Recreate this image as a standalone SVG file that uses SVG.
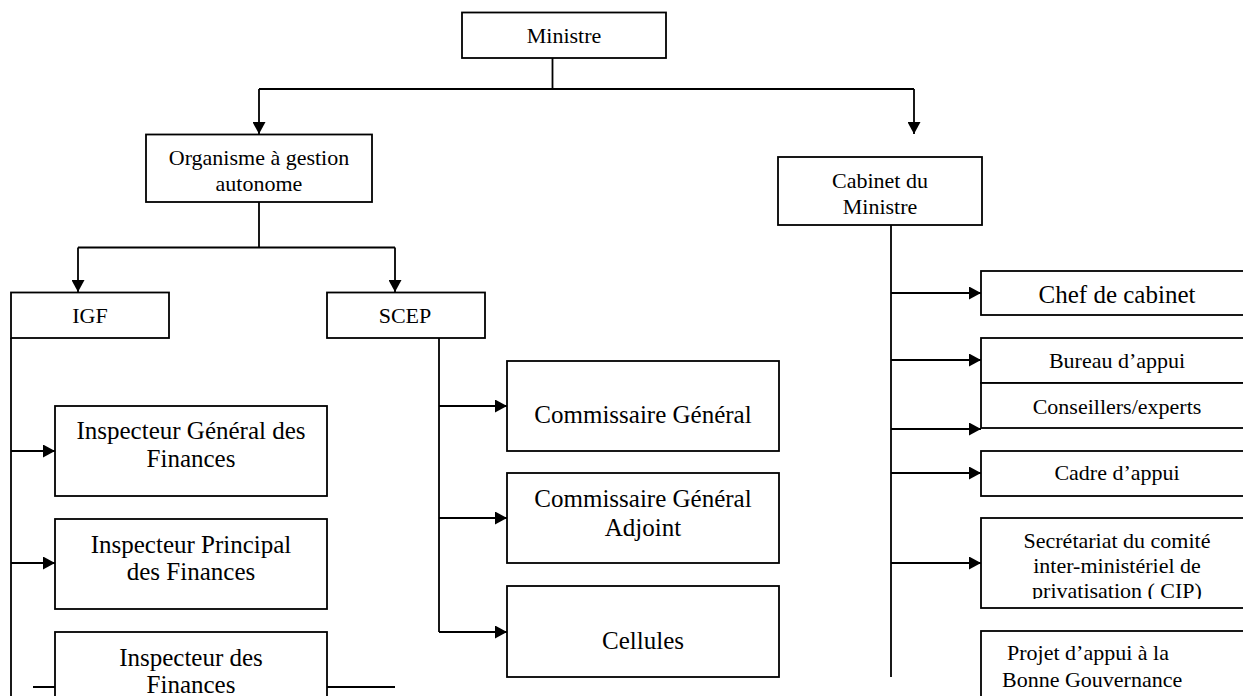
<svg xmlns="http://www.w3.org/2000/svg" width="1243" height="696" viewBox="0 0 1243 696">
<defs>
<marker id="arr" markerUnits="userSpaceOnUse" markerWidth="13" markerHeight="13" refX="12" refY="6.5" orient="auto">
<path d="M0,0 L12,6.5 L0,13 z" fill="#000"/>
</marker>
<clipPath id="clipSec"><rect x="982" y="519" width="270" height="80"/></clipPath>
</defs>
<style>
.box{fill:#fff;stroke:#000;stroke-width:1.8}
.ln{fill:none;stroke:#000;stroke-width:1.8}
.ar{fill:none;stroke:#000;stroke-width:1.8;marker-end:url(#arr)}
text{font-family:"Liberation Serif","Times New Roman",serif;fill:#000;text-anchor:middle}
.s{font-size:22px}
.l{font-size:25px}
</style>
<rect width="1243" height="696" fill="#fff"/>
<g id="connectors">
<path class="ln" d="M552.5,58 V89 M259,89 H914"/>
<path class="ar" d="M259,89 V134"/>
<path class="ar" d="M914,89 V134"/>
<path class="ln" d="M259,202 V247.5 M78,247.5 H395"/>
<path class="ar" d="M78,247.5 V292"/>
<path class="ar" d="M395,247.5 V292"/>
<path class="ln" d="M11,338 V696"/>
<path class="ar" d="M11,451 H55"/>
<path class="ar" d="M11,563 H55"/>
<path class="ln" d="M33,687 H55 M327,687 H395"/>
<path class="ln" d="M439,338 V632"/>
<path class="ar" d="M439,406 H507"/>
<path class="ar" d="M439,518 H507"/>
<path class="ar" d="M439,632 H507"/>
<path class="ln" d="M891,225 V677"/>
<path class="ar" d="M891,293 H981"/>
<path class="ar" d="M891,360 H981"/>
<path class="ar" d="M891,429 H981"/>
<path class="ar" d="M891,473 H981"/>
<path class="ar" d="M891,563 H981"/>
</g>
<g id="ministre"><rect class="box" x="462" y="12.5" width="204" height="45.5"/><text class="s" x="564" y="43">Ministre</text></g>
<g id="organisme"><rect class="box" x="146" y="134.5" width="226" height="67.5"/><text class="s" x="259" y="165">Organisme à gestion</text><text class="s" x="259" y="191">autonome</text></g>
<g id="cabinet"><rect class="box" x="778" y="157" width="204" height="68"/><text class="s" x="880" y="188">Cabinet du</text><text class="s" x="880" y="214">Ministre</text></g>
<g id="igf"><rect class="box" x="11" y="292.5" width="158" height="45.5"/><text class="s" x="90" y="323">IGF</text></g>
<g id="scep"><rect class="box" x="327" y="292.5" width="158" height="45.5"/><text class="s" x="405" y="323">SCEP</text></g>
<g id="insp-general"><rect class="box" x="55" y="406" width="272" height="90"/><text class="l" x="191" y="439">Inspecteur Général des</text><text class="l" x="191" y="467">Finances</text></g>
<g id="insp-principal"><rect class="box" x="55" y="519" width="272" height="90"/><text class="l" x="191" y="553">Inspecteur Principal</text><text class="l" x="191" y="580">des Finances</text></g>
<g id="insp-finances"><rect class="box" x="55" y="632" width="272" height="80"/><text class="l" x="191" y="666">Inspecteur des</text><text class="l" x="191" y="693">Finances</text></g>
<g id="commissaire-general"><rect class="box" x="507" y="361" width="272" height="90"/><text class="l" x="643" y="423">Commissaire Général</text></g>
<g id="commissaire-adjoint"><rect class="box" x="507" y="473" width="272" height="90"/><text class="l" x="643" y="507">Commissaire Général</text><text class="l" x="643" y="536">Adjoint</text></g>
<g id="cellules"><rect class="box" x="507" y="586" width="272" height="91"/><text class="l" x="643" y="649">Cellules</text></g>
<g id="chef-cabinet"><rect class="box" x="981" y="271" width="275" height="44"/><text class="l" x="1117" y="303">Chef de cabinet</text></g>
<g id="bureau-appui"><rect class="box" x="981" y="338" width="275" height="45"/><text class="s" x="1117" y="368">Bureau d’appui</text></g>
<g id="conseillers"><rect class="box" x="981" y="383" width="275" height="45"/><text class="s" x="1117" y="414">Conseillers/experts</text></g>
<g id="cadre-appui"><rect class="box" x="981" y="451" width="275" height="45"/><text class="s" x="1117" y="480">Cadre d’appui</text></g>
<g id="secretariat"><rect class="box" x="981" y="518" width="275" height="90"/><g clip-path="url(#clipSec)"><text class="s" x="1117" y="548">Secrétariat du comité</text><text class="s" x="1117" y="573">inter-ministériel de</text><text class="s" x="1117" y="598">privatisation ( CIP)</text></g></g>
<g id="projet"><rect class="box" x="981" y="631" width="275" height="80"/><text class="s" x="1007" y="660" style="text-anchor:start">Projet d’appui à la</text><text class="s" x="1002" y="687" style="text-anchor:start">Bonne Gouvernance</text></g>
</svg>
